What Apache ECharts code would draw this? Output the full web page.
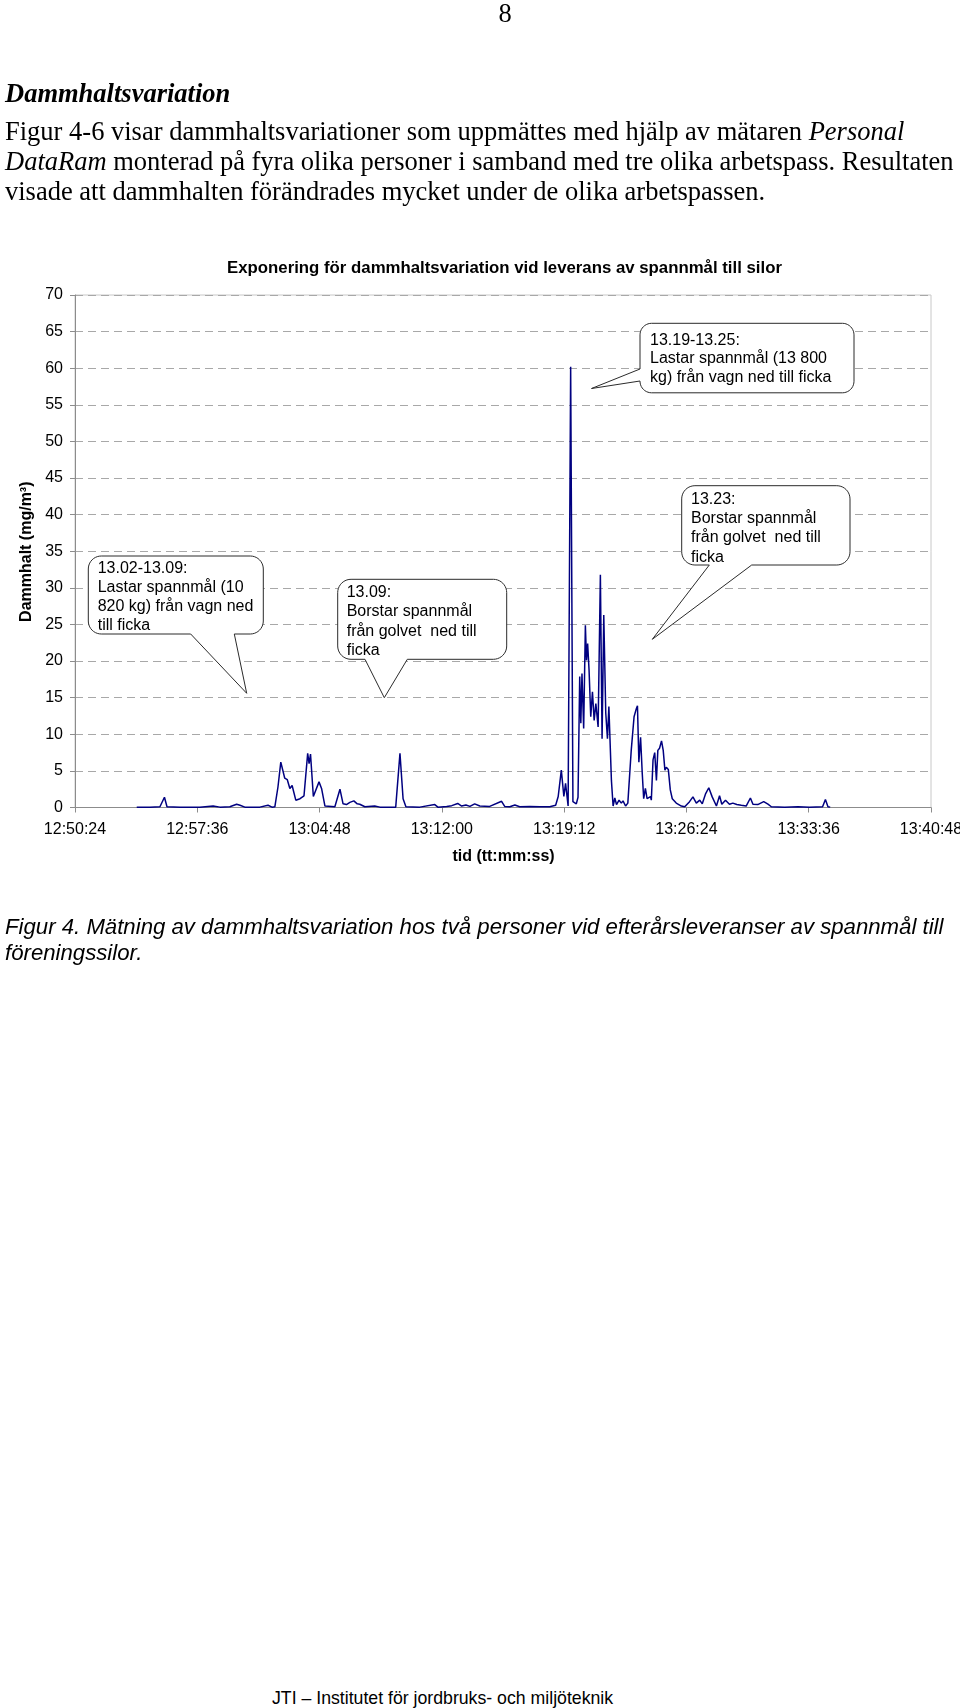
<!DOCTYPE html>
<html><head><meta charset="utf-8">
<script src="https://cdn.jsdelivr.net/npm/echarts@6/dist/echarts.min.js"></script>
<style>
html,body{margin:0;padding:0;background:#fff;width:960px;height:1708px;overflow:hidden;}
#chart{position:absolute;left:0;top:0;width:960px;height:1000px;}
.t{position:absolute;white-space:pre;color:#000;z-index:5;}
.serif{font-family:'Liberation Serif','DejaVu Serif',serif;font-size:26.5px;line-height:30px;}
.sans{font-family:'Liberation Sans',Arial,sans-serif;}
</style></head><body>
<div id="chart"></div>
<div class="t serif" style="left:0;width:1010px;text-align:center;top:-2px;">8</div>
<div class="t serif" style="left:5px;top:78px;font-weight:bold;font-style:italic;">Dammhaltsvariation</div>
<div class="t serif" style="left:5px;top:116px;">Figur 4-6 visar dammhaltsvariationer som uppmättes med hjälp av mätaren <i>Personal</i>
<i>DataRam</i> monterad på fyra olika personer i samband med tre olika arbetspass. Resultaten
visade att dammhalten förändrades mycket under de olika arbetspassen.</div>
<div class="t sans" style="left:5px;top:914px;font-size:22.2px;line-height:26px;font-style:italic;">Figur 4. Mätning av dammhaltsvariation hos två personer vid efterårsleveranser av spannmål till
föreningssilor.</div>
<div class="t sans" style="left:272px;top:1687px;font-size:17.7px;line-height:22px;">JTI – Institutet för jordbruks- och miljöteknik</div>
<script>
// ---- data ----
const chartTitle = 'Exponering för dammhaltsvariation vid leverans av spannmål till silor';
const yAxisTitle = 'Dammhalt (mg/m³)';
const xAxisTitle = 'tid (tt:mm:ss)';
const xStart = '12:50:24';
const xEnd = '13:40:48';
const xStepSeconds = 432; // 00:07:12
const yMin = 0, yMax = 70, yStep = 5;

const times = ["12:54:02","12:54:49","12:55:24","12:55:40","12:55:49","12:56:35","12:57:45","12:58:32","12:58:56","12:59:31","12:59:55","13:00:07","13:00:24","13:01:17","13:01:46","13:02:00","13:02:10","13:02:21","13:02:31","13:02:45","13:02:54","13:03:03","13:03:11","13:03:24","13:03:39","13:03:53","13:04:00","13:04:06","13:04:11","13:04:16","13:04:26","13:04:32","13:04:46","13:04:55","13:05:07","13:05:42","13:06:00","13:06:11","13:06:23","13:06:35","13:06:49","13:07:01","13:07:10","13:07:28","13:08:03","13:08:21","13:09:17","13:09:32","13:09:43","13:09:53","13:10:42","13:11:35","13:11:46","13:12:17","13:12:35","13:12:56","13:13:10","13:13:25","13:13:39","13:13:56","13:14:14","13:14:49","13:15:31","13:15:42","13:16:00","13:16:18","13:16:35","13:17:11","13:17:46","13:18:21","13:18:42","13:18:51","13:19:02","13:19:11","13:19:17","13:19:26","13:19:35","13:19:43","13:19:55","13:20:01","13:20:07","13:20:11","13:20:15","13:20:21","13:20:27","13:20:31","13:20:35","13:20:40","13:20:46","13:20:52","13:20:58","13:21:04","13:21:12","13:21:20","13:21:26","13:21:32","13:21:39","13:21:45","13:21:50","13:21:59","13:22:05","13:22:11","13:22:17","13:22:26","13:22:34","13:22:40","13:22:49","13:22:57","13:23:09","13:23:19","13:23:27","13:23:31","13:23:36","13:23:42","13:23:48","13:23:53","13:23:59","13:24:05","13:24:12","13:24:17","13:24:20","13:24:26","13:24:32","13:24:38","13:24:43","13:24:49","13:24:56","13:25:02","13:25:08","13:25:13","13:25:20","13:25:27","13:25:34","13:25:48","13:26:06","13:26:18","13:26:35","13:26:47","13:26:59","13:27:11","13:27:20","13:27:32","13:27:43","13:27:55","13:28:10","13:28:21","13:28:29","13:28:42","13:28:56","13:29:08","13:29:22","13:29:38","13:29:55","13:30:10","13:30:19","13:30:36","13:30:57","13:31:12","13:31:24","13:32:11","13:32:58","13:33:39","13:34:25","13:34:35","13:34:44","13:34:52"];
const dust = [0.05,0.05,0.1,1.4,0.1,0.05,0.05,0.2,0.05,0.1,0.45,0.3,0.05,0.05,0.3,0.05,0.1,2.8,6.2,4.0,3.8,2.6,3.0,1.0,1.2,1.6,1.5,7.4,6.0,7.3,1.5,1.6,3.5,2.6,0.2,0.1,2.5,0.5,0.4,0.7,0.9,0.5,0.45,0.1,0.2,0.05,0.05,7.4,1.2,0.1,0.05,0.4,0.05,0.15,0.25,0.55,0.2,0.35,0.15,0.5,0.2,0.15,0.85,0.15,0.1,0.35,0.1,0.15,0.1,0.1,0.3,1.5,5.1,1.5,3.3,0.2,60.2,0.8,0.5,1.4,17.9,11.5,18.3,10.8,24.9,20.1,22.4,18.8,12.4,15.8,11.9,14.2,11.0,31.8,9.4,26.3,12.9,9.4,13.8,3.7,0.2,1.3,0.4,1.0,0.6,0.9,0.2,0.6,7.8,12.4,13.5,13.9,6.2,9.6,4.6,1.2,2.6,1.2,1.4,1.5,1.0,6.5,7.5,3.7,7.8,8.1,9.1,7.8,5.1,5.5,5.2,2.4,1.2,0.6,0.2,0.1,0.8,1.45,0.6,1.0,0.5,1.9,2.7,1.45,0.2,1.6,0.45,1.0,0.45,0.6,0.4,0.3,0.2,1.3,0.45,0.4,0.8,0.45,0.1,0.05,0.1,0.05,0.1,1.1,0.1,0.05];

const calloutTexts = [
  ['13.02-13.09:', 'Lastar spannmål (10', '820 kg) från vagn ned', 'till ficka'],
  ['13.09:', 'Borstar spannmål', 'från golvet  ned till', 'ficka'],
  ['13.19-13.25:', 'Lastar spannmål (13 800', 'kg) från vagn ned till ficka'],
  ['13.23:', 'Borstar spannmål', 'från golvet  ned till', 'ficka']
];

// ---- helpers ----
function toSec(s){const p=s.split(':').map(Number);return p[0]*3600+p[1]*60+p[2];}
function pad(n){return (n<10?'0':'')+n;}
function toHMS(v){v=Math.round(v);return pad(Math.floor(v/3600))+':'+pad(Math.floor(v%3600/60))+':'+pad(v%60);}

const n = Math.min(times.length, dust.length);
const seriesData = [];
for (let i=0;i<n;i++) seriesData.push([toSec(times[i]), dust[i]]);

function calloutPoints(x,y,w,h,side,b1,b2,tip){
  const r = Math.min(w,h)*0.16667;
  const pts=[]; const seg=10;
  const arc=(cx,cy,a0,a1)=>{for(let i=0;i<=seg;i++){const a=a0+(a1-a0)*i/seg;pts.push([cx+r*Math.cos(a),cy+r*Math.sin(a)]);}};
  arc(x+r,y+r,Math.PI,1.5*Math.PI);
  arc(x+w-r,y+r,1.5*Math.PI,2*Math.PI);
  arc(x+w-r,y+h-r,0,0.5*Math.PI);
  if(side==='bottom'){pts.push([b2,y+h],tip,[b1,y+h]);}
  arc(x+r,y+h-r,0.5*Math.PI,Math.PI);
  if(side==='left'){pts.push([x,b2],tip,[x,b1]);}
  return pts;
}

const bubbles = [
  {box:[88.3,556,175,78], side:'bottom', b:[190.7,234.3], tip:[246.7,693.3], tx:97.7, ty:568.3, lh:19.1},
  {box:[337.7,579.3,169,80], side:'bottom', b:[365,407.3], tip:[384.3,697.7], tx:346.7, ty:592.7, lh:19.3},
  {box:[640,323.3,214,69.5], side:'left', b:[369,381], tip:[591.5,388.5], tx:650, ty:340.7, lh:18.3},
  {box:[681.7,485.7,168.3,79.3], side:'bottom', b:[709.3,751.7], tip:[652.3,639.3], tx:691, ty:499.3, lh:19.3}
];

const graphics = [
  {type:'text', x:504.5, y:268, z:50, style:{text:chartTitle, fontSize:16.8, fontWeight:'bold', fontFamily:'Liberation Sans', fill:'#000', align:'center', verticalAlign:'middle'}},
  {type:'text', x:503.5, y:856.5, z:50, style:{text:xAxisTitle, fontSize:16, fontWeight:'bold', fontFamily:'Liberation Sans', fill:'#000', align:'center', verticalAlign:'middle'}},
  {type:'text', x:26.7, y:551.7, rotation:Math.PI/2, z:50, style:{text:yAxisTitle, fontSize:16, fontWeight:'bold', fontFamily:'Liberation Sans', fill:'#000', align:'center', verticalAlign:'middle'}}
];
bubbles.forEach((b,i)=>{
  const [x,y,w,h]=b.box;
  graphics.push({type:'polygon', z:60, shape:{points:calloutPoints(x,y,w,h,b.side,b.b[0],b.b[1],b.tip)}, style:{fill:'#fff', stroke:'#2a2a2a', lineWidth:1}});
  graphics.push({type:'text', z:61, x:b.tx, y:b.ty-b.lh/2, style:{text:calloutTexts[i].join('\n'), fontSize:16, fontFamily:'Liberation Sans', fill:'#000', lineHeight:b.lh, align:'left', verticalAlign:'top'}});
});

const chart = echarts.init(document.getElementById('chart'), null, {renderer:'canvas'});
chart.setOption({
  animation:false,
  backgroundColor:'transparent',
  grid:{left:75, top:295, width:856, height:512.5, show:true, borderColor:'#c8c8c8', borderWidth:1, backgroundColor:'transparent', containLabel:false, outerBoundsMode:'none'},
  xAxis:{type:'value', min:toSec(xStart), max:toSec(xEnd), interval:xStepSeconds,
    axisLine:{show:true, lineStyle:{color:'#8c8c8c', width:1}},
    axisTick:{show:true, length:5, lineStyle:{color:'#8c8c8c'}},
    axisLabel:{formatter:toHMS, fontSize:16, color:'#000', fontFamily:'Liberation Sans', margin:14, showMinLabel:true, showMaxLabel:true},
    splitLine:{show:false}},
  yAxis:{type:'value', min:yMin, max:yMax, interval:yStep,
    axisLine:{show:true, lineStyle:{color:'#8c8c8c', width:1}},
    axisTick:{show:true, length:5, lineStyle:{color:'#8c8c8c'}},
    axisLabel:{fontSize:16, color:'#000', fontFamily:'Liberation Sans', margin:12},
    splitLine:{show:true, lineStyle:{type:[8,5], color:'#a8a8a8', width:1}}},
  series:[{type:'line', data:seriesData, showSymbol:false, symbol:'none', z:3,
    lineStyle:{color:'#000080', width:1.5}, itemStyle:{color:'#000080'}}],
  graphic:graphics
});
</script>
</body></html>
